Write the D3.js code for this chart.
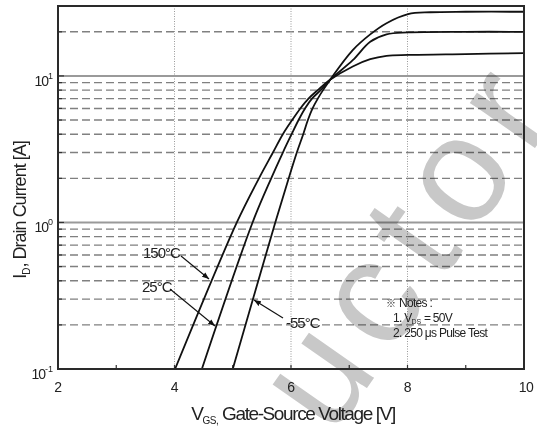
<!DOCTYPE html>
<html>
<head>
<meta charset="utf-8">
<script src="https://cdn.jsdelivr.net/npm/d3@7"></script>
<style>
    body { margin: 0; background: #fff; }
    svg { display: block; font-family: "Liberation Sans", Arial, sans-serif; }
</style>
</head>
<body>
<div id="chart"></div>
<script>
// Transfer characteristic values (VGS in V, ID in A)
const vgs_150 = [4.01, 5.07, 5.45, 5.69, 5.86, 6.02, 6.16, 6.30, 6.46, 6.67, 7.06, 7.36, 7.64, 8.01, 9.0, 10.0];
const id_150 = [0.1, 1, 2, 3, 4, 5, 6, 7, 8, 9.4, 11.6, 13.0, 13.7, 13.9, 14.1, 14.3];

const vgs_25 = [4.47, 5.34, 5.66, 5.86, 6.01, 6.13, 6.24, 6.36, 6.51, 6.67, 7.06, 7.36, 7.64, 8.01, 9.0, 10.0];
const id_25 = [0.1, 1, 2, 3, 4, 5, 6, 7, 8, 9.4, 12.8, 17.1, 19.2, 19.8, 20.0, 20.0];

const vgs_m55 = [5.0, 5.73, 5.96, 6.10, 6.21, 6.29, 6.37, 6.46, 6.55, 6.67, 7.06, 7.36, 7.64, 8.01, 8.39, 9.0, 10.0];
const id_m55 = [0.1, 1, 2, 3, 4, 5, 6, 7, 8, 9.4, 15.0, 19.2, 22.9, 26.4, 27.2, 27.4, 27.4];

const curve_names = ['150°C', '25°C', '-55°C'];

// Axis ticks
const x_tick_values = [2, 4, 6, 8, 10];
const x_grid_values = [4, 6, 8];
const x_minor_values = [3, 4, 5, 6, 7, 8, 9];
const y_decades = [0.1, 1, 10];
const y_exponents = ['-1', '0', '1'];
const y_minor_values = [0.2, 0.3, 0.4, 0.5, 0.6, 0.7, 0.8, 0.9, 2, 3, 4, 5, 6, 7, 8, 9, 20];

const notes_lines = ['Notes :', '1. V', '2. 250 \u03bcs Pulse Test'];

window.onload = function () {
    draw_chart();
};

function draw_chart() {
    const attributes = {
        width: 537,
        height: 428,
        plot: {left: 58, right: 524, top: 6, bottom: 369}
    };
    const p = attributes.plot;

    const svg = d3.select('#chart')
        .append('svg')
        .attr('width', attributes.width)
        .attr('height', attributes.height);

    const x_scale = d3.scaleLinear().domain([2, 10]).range([p.left, p.right]);
    const y_scale = d3.scaleLog().domain([0.1, 30]).range([p.bottom, p.top]);

    // Dashed minor gridlines
    svg.append('g')
        .selectAll('line')
        .data(y_minor_values)
        .join('line')
        .attr('x1', p.left).attr('x2', p.right)
        .attr('y1', d => y_scale(d)).attr('y2', d => y_scale(d))
        .attr('stroke', '#808080')
        .attr('stroke-width', 1.4)
        .attr('stroke-dasharray', '8,4');

    // Solid decade lines
    svg.append('g')
        .selectAll('line')
        .data([1, 10])
        .join('line')
        .attr('x1', p.left).attr('x2', p.right)
        .attr('y1', d => y_scale(d)).attr('y2', d => y_scale(d))
        .attr('stroke', '#9a9a9a')
        .attr('stroke-width', 2);

    // Dotted vertical gridlines
    svg.append('g')
        .selectAll('line')
        .data(x_grid_values)
        .join('line')
        .attr('x1', d => x_scale(d)).attr('x2', d => x_scale(d))
        .attr('y1', p.top).attr('y2', p.bottom)
        .attr('stroke', '#999')
        .attr('stroke-width', 1)
        .attr('stroke-dasharray', '1,1.5');

    // Inward ticks
    svg.append('g')
        .selectAll('line')
        .data(y_minor_values.concat(y_decades))
        .join('line')
        .attr('x1', p.left).attr('x2', d => p.left + (y_decades.includes(d) ? 6 : 4))
        .attr('y1', d => y_scale(d)).attr('y2', d => y_scale(d))
        .attr('stroke', '#333')
        .attr('stroke-width', 1.2);

    svg.append('g')
        .selectAll('line')
        .data(x_minor_values)
        .join('line')
        .attr('x1', d => x_scale(d)).attr('x2', d => x_scale(d))
        .attr('y1', p.bottom).attr('y2', p.bottom - 4)
        .attr('stroke', '#333')
        .attr('stroke-width', 1.2);

    // Watermark
    svg.append('text')
        .attr('transform', 'translate(332,438) rotate(-55)')
        .attr('font-size', 150)
        .attr('letter-spacing', 15)
        .attr('fill', '#c8c8c8')
        .style('mix-blend-mode', 'multiply')
        .text('uctor');

    // Curves
    const series = [
        d3.zip(vgs_150, id_150),
        d3.zip(vgs_25, id_25),
        d3.zip(vgs_m55, id_m55)
    ];
    const line = d3.line()
        .x(d => x_scale(d[0]))
        .y(d => y_scale(d[1]))
        .curve(d3.curveCatmullRom.alpha(0.5));

    svg.append('g')
        .selectAll('path')
        .data(series)
        .join('path')
        .attr('d', line)
        .attr('fill', 'none')
        .attr('stroke', '#111')
        .attr('stroke-width', 1.8);

    // Plot border
    svg.append('rect')
        .attr('x', p.left).attr('y', p.top)
        .attr('width', p.right - p.left).attr('height', p.bottom - p.top)
        .attr('fill', 'none')
        .attr('stroke', '#2a2a2a')
        .attr('stroke-width', 2);

    // X tick labels
    svg.append('g')
        .selectAll('text')
        .data(x_tick_values)
        .join('text')
        .attr('x', d => x_scale(d) + (d === 10 ? 2 : 0))
        .attr('y', 392)
        .attr('text-anchor', 'middle')
        .attr('font-size', 14)
        .attr('letter-spacing', -0.5)
        .attr('fill', '#222')
        .text(d => d);

    // Y tick labels 10^n
    const y_labels = svg.append('g')
        .selectAll('text')
        .data(y_decades)
        .join('text')
        .attr('x', 53)
        .attr('y', d => y_scale(d) + 10)
        .attr('text-anchor', 'end')
        .attr('font-size', 14)
        .attr('letter-spacing', -1)
        .attr('fill', '#222');
    y_labels.append('tspan').text('10');
    y_labels.append('tspan')
        .attr('dy', -7)
        .attr('font-size', 9)
        .attr('letter-spacing', 0)
        .text((d, i) => y_exponents[i]);

    // Axis titles
    const x_title = svg.append('text')
        .attr('x', 293)
        .attr('y', 420)
        .attr('text-anchor', 'middle')
        .attr('font-size', 19)
        .attr('letter-spacing', -1.4)
        .attr('fill', '#222');
    x_title.append('tspan').text('V');
    x_title.append('tspan').attr('dy', 4).attr('font-size', 10).attr('letter-spacing', -0.5).text('GS,');
    x_title.append('tspan').attr('dy', -4).text(' Gate-Source Voltage [V]');

    const y_title = svg.append('text')
        .attr('transform', 'translate(26,210) rotate(-90)')
        .attr('text-anchor', 'middle')
        .attr('font-size', 18)
        .attr('letter-spacing', -1)
        .attr('fill', '#222');
    y_title.append('tspan').text('I');
    y_title.append('tspan').attr('dy', 4).attr('font-size', 10).attr('letter-spacing', 0).text('D');
    y_title.append('tspan').attr('dy', -4).text(', Drain Current [A]');

    // Curve labels with arrows
    svg.append('defs')
        .append('marker')
        .attr('id', 'arrow')
        .attr('viewBox', '0 0 10 10')
        .attr('refX', 10).attr('refY', 5)
        .attr('markerWidth', 7).attr('markerHeight', 7)
        .attr('markerUnits', 'userSpaceOnUse')
        .attr('orient', 'auto')
        .append('path')
        .attr('d', 'M0,1 L10,5 L0,9 Z')
        .attr('fill', '#111');

    const label_pos = [[143, 258], [142, 292], [286, 328]];
    const arrow_pos = [[181, 256, 209, 279], [170, 289, 215, 326], [283, 318, 254, 300]];

    svg.append('g')
        .selectAll('text')
        .data(curve_names)
        .join('text')
        .attr('x', (d, i) => label_pos[i][0])
        .attr('y', (d, i) => label_pos[i][1])
        .attr('font-size', 15)
        .attr('letter-spacing', -1)
        .attr('fill', '#222')
        .text(d => d);

    svg.append('g')
        .selectAll('line')
        .data(arrow_pos)
        .join('line')
        .attr('x1', d => d[0]).attr('y1', d => d[1])
        .attr('x2', d => d[2]).attr('y2', d => d[3])
        .attr('stroke', '#111')
        .attr('stroke-width', 1.1)
        .attr('marker-end', 'url(#arrow)');

    // Notes
    const notes = svg.append('g')
        .attr('font-size', 12)
        .attr('letter-spacing', -0.7)
        .attr('fill', '#222');
    notes.append('text')
        .attr('x', 386).attr('y', 307)
        .attr('font-family', '"Noto Sans CJK JP", "DejaVu Sans", sans-serif')
        .attr('font-size', 10)
        .text('\u203b');
    notes.append('text').attr('x', 399).attr('y', 307).text(notes_lines[0]);
    const note_1 = notes.append('text').attr('x', 393).attr('y', 322);
    note_1.append('tspan').text(notes_lines[1]);
    note_1.append('tspan').attr('dy', 2).attr('font-size', 7).attr('letter-spacing', 0).text('DS');
    note_1.append('tspan').attr('dy', -2).text(' = 50V');
    notes.append('text').attr('x', 393).attr('y', 337).text(notes_lines[2]);
}
</script>
</body>
</html>
